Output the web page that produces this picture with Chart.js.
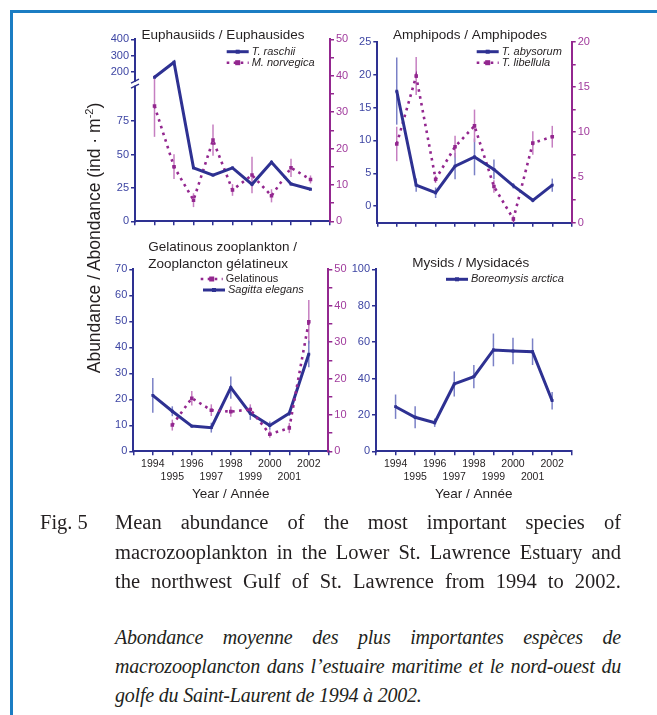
<!DOCTYPE html>
<html>
<head>
<meta charset="utf-8">
<script src="https://cdn.jsdelivr.net/npm/chart.js@4.4.1/dist/chart.umd.min.js"></script>
<style>
  body { margin: 0; width: 657px; height: 715px; position: relative; overflow: hidden; background: #fff; }
  .frame { position: absolute; left: 10px; top: 10px; right: -10px; bottom: -10px;
           border-top: 3px solid #1b7dc3; border-left: 3px solid #1b7dc3; }
  canvas.panel { position: absolute; }
  #yTitle { position: absolute; left: -56px; top: 228px; width: 300px; height: 20px; line-height: 20px;
            text-align: center; transform: rotate(-90deg); color: #231f20;
            font: 17.5px "Liberation Sans", Arial, sans-serif; white-space: nowrap; }
  #yTitle sup { font-size: 11px; vertical-align: 7px; line-height: 0; }
  .cap { position: absolute; height: 30px; line-height: 30px; color: #231f20;
         font-family: "Liberation Serif", "Times New Roman", serif; font-size: 20.5px; }
  .fig { left: 40px; }
  .ln { left: 115px; width: 506px; text-align: justify; text-align-last: justify; white-space: nowrap; }
  .fr { font-style: italic; font-size: 20px; letter-spacing: -0.2px; }
  .end { text-align-last: left; }
</style>
</head>
<body>
<div class="frame"></div>
<canvas id="euph" class="panel"></canvas>
<canvas id="amph" class="panel"></canvas>
<canvas id="gel" class="panel"></canvas>
<canvas id="mys" class="panel"></canvas>
<div id="yTitle">Abundance / Abondance (ind · m<sup>-2</sup>)</div>

<div class="cap fig" style="top:507px">Fig. 5</div>
<div class="cap ln" style="top:507px">Mean abundance of the most important species of</div>
<div class="cap ln" style="top:537px">macrozooplankton in the Lower St. Lawrence Estuary and</div>
<div class="cap ln" style="top:566px">the northwest Gulf of St. Lawrence from 1994 to 2002.</div>
<div class="cap ln fr" style="top:622px">Abondance moyenne des plus importantes espèces de</div>
<div class="cap ln fr" style="top:651px">macrozooplancton dans l’estuaire maritime et le nord-ouest du</div>
<div class="cap ln fr end" style="top:680px">golfe du Saint-Laurent de 1994 à 2002.</div>

<script>
const years = [1994, 1995, 1996, 1997, 1998, 1999, 2000, 2001, 2002];

// Euphausiids: T. raschii on the broken left axis, M. norvegica on the right axis
const raschii = [165, 258, 40, 34.6, 40, 27.7, 44.2, 27.9, 24];
const norvegica = [31.7, 15.0, 5.8, 22.3, 8.6, 12.7, 7.0, 14.7, 11.5];
const norvegicaErr = [8.5, 3.4, 1.9, 4.3, 1.6, 5.0, 1.8, 2.5, 1.1];
const euphLeftTicks = [0, 25, 50, 75, 200, 300, 400];
const euphRightTicks = [0, 10, 20, 30, 40, 50];

// Amphipods
const abysorum = [17.5, 3.2, 2.05, 6.1, 7.5, 5.6, 3.1, 0.9, 3.2];
const abysorumErr = [5.1, 1.0, 0.8, 2.0, 2.8, 1.5, 0.4, 0.3, 1.0];
const libellula = [8.7, 16.2, 4.8, 8.4, 10.7, 4.0, 0.4, 8.8, 9.5];
const libellulaErr = [1.9, 2.1, 0.4, 1.2, 1.8, 0.7, 0.4, 1.3, 1.2];
const amphLeftTicks = [0, 5, 10, 15, 20, 25];
const amphRightTicks = [0, 5, 10, 15, 20];

// Gelatinous zooplankton
const gelatinous = [null, 7.2, 14.6, 11.3, 10.9, 11.5, 4.7, 6.4, 35.6];
const gelatinousErr = [null, 1.5, 2.0, 1.6, 1.4, 1.4, 1.0, 1.4, 6.0];
const sagitta = [21.5, 15.4, 9.7, 9.1, 24.5, 14.6, 9.9, 14.6, 37.4];
const sagittaErr = [6.7, 1.9, 0.5, 1.9, 4.3, 2.5, 1.6, 1.0, 5.1];
const gelLeftTicks = [0, 10, 20, 30, 40, 50, 60, 70];
const gelRightTicks = [0, 10, 20, 30, 40, 50];

// Mysids
const boreomysis = [24.5, 18.7, 15.7, 37.0, 41.0, 55.7, 55.1, 54.7, 27.8];
const boreomysisErr = [6.7, 6.0, 2.3, 6.9, 6.4, 9.0, 7.3, 7.3, 4.8];
const mysLeftTicks = [0, 20, 40, 60, 80, 100];

const FONT = '"Liberation Sans", Arial, sans-serif';
const INK = '#231f20';
const NAVY = '#2e3192';
const NAVY_ERR = '#7a80c6';
const PURPLE = '#93278f';
const PURPLE_ERR = '#c67fc1';
const BLUE_TXT = '#3d45a3';
const PURPLE_TXT = '#a03a9c';

// the euphausiid left axis is broken: 0-100 linear, then 150-400 squeezed above the break
function euphScale(v) {
  return v <= 100 ? v : 112 + (v - 200) * 0.121;
}

// vertical error bars under each series
const errorBars = {
  id: 'errorBars',
  beforeDatasetsDraw(chart) {
    const ctx = chart.ctx;
    chart.data.datasets.forEach((ds, di) => {
      if (!ds.errors) return;
      const meta = chart.getDatasetMeta(di);
      const scale = chart.scales[meta.yAxisID];
      ctx.save();
      ctx.strokeStyle = ds.errorColor;
      ctx.lineWidth = 1.5;
      meta.data.forEach((pt, i) => {
        const v = ds.data[i].y, e = ds.errors[i];
        if (v == null || !e) return;
        ctx.beginPath();
        ctx.moveTo(pt.x, scale.getPixelForValue(v - e));
        ctx.lineTo(pt.x, scale.getPixelForValue(v + e));
        ctx.stroke();
      });
      ctx.restore();
    });
  }
};

// panel titles, inline legends and the axis break mark
const panelText = {
  id: 'panelText',
  afterDraw(chart, args, opts) {
    const ctx = chart.ctx;
    ctx.save();
    ctx.textBaseline = 'middle';
    ctx.fillStyle = INK;
    ctx.font = '13.5px ' + FONT;
    (opts.title || []).forEach(t => {
      ctx.textAlign = t.align || 'center';
      ctx.fillText(t.text, t.x, t.y);
    });
    (opts.legend || []).forEach(item => {
      const ds = chart.data.datasets[item.index];
      ctx.strokeStyle = ds.borderColor;
      ctx.lineWidth = ds.borderWidth;
      ctx.setLineDash(ds.borderDash || []);
      ctx.beginPath();
      ctx.moveTo(item.x, item.y);
      ctx.lineTo(item.x + 22, item.y);
      ctx.stroke();
      ctx.setLineDash([]);
      const r = ds.pointRadius;
      ctx.fillStyle = ds.pointBackgroundColor;
      ctx.fillRect(item.x + 11 - r, item.y - r, 2 * r, 2 * r);
      ctx.fillStyle = INK;
      ctx.textAlign = 'left';
      ctx.font = (item.italic ? 'italic ' : '') + '11px ' + FONT;
      ctx.fillText(ds.label, item.x + 25, item.y);
    });
    if (opts.axisBreak) {
      const s = chart.scales.y;
      const x = chart.chartArea.left;
      const y = s.getPixelForValue(opts.axisBreak);
      ctx.fillStyle = '#fff';
      ctx.fillRect(x - 3, y - 2, 6, 4);
      ctx.strokeStyle = NAVY;
      ctx.lineWidth = 1.3;
      ctx.beginPath();
      ctx.moveTo(x - 4, y - 0.5); ctx.lineTo(x + 4, y - 4.5);
      ctx.moveTo(x - 4, y + 4.5); ctx.lineTo(x + 4, y + 0.5);
      ctx.stroke();
    }
    ctx.restore();
  }
};

Chart.register(errorBars, panelText);

function xAxis(showLabels) {
  return {
    type: 'linear', min: 1993, max: 2003,
    afterBuildTicks: s => { s.ticks = [1993, ...years, 2003].map(v => ({ value: v })); },
    afterFit: s => { s.height = showLabels ? 55 : 8; },
    border: { color: NAVY, width: 2 },
    grid: { drawOnChartArea: false, tickLength: 4, color: NAVY, lineWidth: 1.5 },
    ticks: {
      autoSkip: false, maxRotation: 0, padding: 3, color: INK,
      font: { family: FONT, size: 10.5 },
      callback: v => {
        if (!showLabels || !years.includes(v)) return '';
        return v % 2 === 0 ? [String(v), ''] : ['', String(v)];
      }
    },
    title: {
      display: showLabels, text: 'Year / Année', color: INK,
      font: { family: FONT, size: 13.5 }, padding: { top: 0, bottom: 4 }
    }
  };
}

function yAxis(side, min, max, labels, minor, map = v => v) {
  const color = side === 'left' ? NAVY : PURPLE;
  const values = labels.map(map);
  const minors = [];
  if (minor) {
    for (let i = 0; i < labels.length - 1; i++) minors.push((labels[i] + labels[i + 1]) / 2);
  }
  return {
    position: side, min, max,
    afterBuildTicks: s => { s.ticks = values.concat(minors).map(v => ({ value: v })); },
    afterFit: s => { s.width = side === 'left' ? 30 : 24; },
    border: { color, width: 2 },
    grid: { drawOnChartArea: false, tickLength: 4, color, lineWidth: 1.5 },
    ticks: {
      autoSkip: false, padding: 2,
      color: side === 'left' ? BLUE_TXT : PURPLE_TXT,
      font: { family: FONT, size: 11 },
      callback: (v, i) => i < labels.length ? String(labels[i]) : ''
    }
  };
}

function solidSeries(label, values, errors, axis = 'y') {
  return {
    label, yAxisID: axis,
    data: years.map((yr, i) => ({ x: yr, y: values[i] })),
    errors, errorColor: NAVY_ERR,
    borderColor: NAVY, borderWidth: 3,
    pointStyle: 'rect', pointRadius: 2, pointBackgroundColor: NAVY, pointBorderWidth: 0
  };
}

function dottedSeries(label, values, errors, axis = 'y2') {
  return {
    label, yAxisID: axis,
    data: years.map((yr, i) => ({ x: yr, y: values[i] })),
    errors, errorColor: PURPLE_ERR,
    borderColor: PURPLE, borderWidth: 2.6, borderDash: [2.6, 4.4], borderCapStyle: 'butt',
    pointStyle: 'rect', pointRadius: 2.5, pointBackgroundColor: PURPLE, pointBorderWidth: 0
  };
}

// box = canvas position on the page, area = wanted plot rectangle (page coordinates)
function makePanel(id, box, area, scales, datasets, text) {
  const canvas = document.getElementById(id);
  canvas.width = box.w;
  canvas.height = box.h;
  canvas.style.left = box.x + 'px';
  canvas.style.top = box.y + 'px';
  const leftW = 30, rightW = scales.y2 ? 24 : 0;
  const xH = scales.x.title.display ? 55 : 8;
  const shift = o => Object.assign({}, o, { x: o.x - box.x, y: o.y - box.y });

  new Chart(canvas, {
    type: 'line',
    data: { datasets },
    options: {
      responsive: false,
      animation: false,
      layout: {
        padding: {
          left: area.l - box.x - leftW,
          right: box.x + box.w - area.r - rightW,
          top: area.t - box.y,
          bottom: box.y + box.h - area.b - xH
        }
      },
      scales,
      plugins: {
        legend: { display: false },
        tooltip: { enabled: false },
        panelText: {
          title: text.title.map(shift),
          legend: text.legend.map(shift),
          axisBreak: text.axisBreak
        }
      }
    }
  });
}

makePanel('euph', { x: 80, y: 20, w: 275, h: 215 }, { l: 135, t: 39.3, r: 330, b: 221.3 },
  {
    x: xAxis(false),
    y: yAxis('left', 0, euphScale(400), euphLeftTicks, false, euphScale),
    y2: yAxis('right', 0, 50, euphRightTicks, true)
  },
  [
    solidSeries('T. raschii', raschii.map(euphScale), null),
    dottedSeries('M. norvegica', norvegica, norvegicaErr)
  ],
  {
    title: [{ text: 'Euphausiids / Euphausides', x: 223, y: 35 }],
    legend: [{ index: 0, x: 226.7, y: 51.7, italic: true }, { index: 1, x: 226.7, y: 62.7, italic: true }],
    axisBreak: 103
  });

makePanel('amph', { x: 345, y: 20, w: 260, h: 215 }, { l: 377.3, t: 41.7, r: 571.7, b: 222.7 },
  {
    x: xAxis(false),
    y: yAxis('left', -2.5, 25, amphLeftTicks, false),
    y2: yAxis('right', 0, 20, amphRightTicks, true)
  },
  [
    solidSeries('T. abysorum', abysorum, abysorumErr),
    dottedSeries('T. libellula', libellula, libellulaErr)
  ],
  {
    title: [{ text: 'Amphipods / Amphipodes', x: 470, y: 35 }],
    legend: [{ index: 0, x: 476.7, y: 51.7, italic: true }, { index: 1, x: 476.7, y: 62.7, italic: true }]
  });

makePanel('gel', { x: 80, y: 238, w: 275, h: 275 }, { l: 133.3, t: 269.3, r: 328.3, b: 451.3 },
  {
    x: xAxis(true),
    y: yAxis('left', 0, 70, gelLeftTicks, false),
    y2: yAxis('right', 0, 50, gelRightTicks, true)
  },
  [
    dottedSeries('Gelatinous', gelatinous, gelatinousErr),
    solidSeries('Sagitta elegans', sagitta, sagittaErr)
  ],
  {
    title: [
      { text: 'Gelatinous zooplankton /', x: 148.3, y: 247, align: 'left' },
      { text: 'Zooplancton gélatineux', x: 148.3, y: 264, align: 'left' }
    ],
    legend: [{ index: 0, x: 200.7, y: 279, italic: false }, { index: 1, x: 203, y: 290, italic: true }]
  });

makePanel('mys', { x: 345, y: 238, w: 260, h: 275 }, { l: 376, t: 269.3, r: 571.7, b: 451.3 },
  {
    x: xAxis(true),
    y: yAxis('left', 0, 100, mysLeftTicks, false)
  },
  [solidSeries('Boreomysis arctica', boreomysis, boreomysisErr)],
  {
    title: [{ text: 'Mysids / Mysidacés', x: 470.7, y: 263 }],
    legend: [{ index: 0, x: 446, y: 279.3, italic: true }]
  });
</script>
</body>
</html>
